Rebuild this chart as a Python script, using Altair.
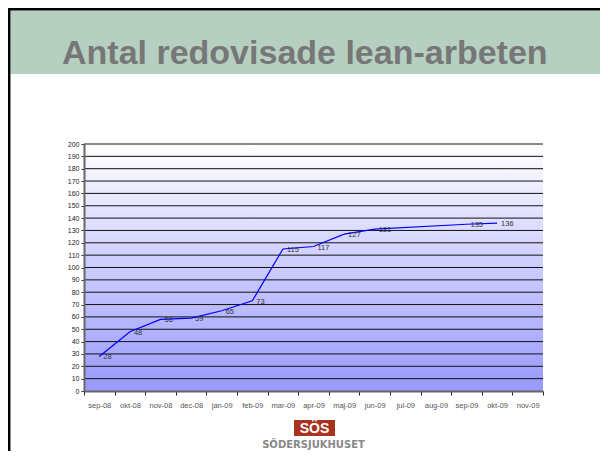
import altair as alt
import pandas as pd

# ---- data ----
months = ["sep-08", "okt-08", "nov-08", "dec-08", "jan-09", "feb-09", "mar-09",
          "apr-09", "maj-09", "jun-09", "jul-09", "aug-09", "sep-09", "okt-09", "nov-09"]
point_months = ["sep-08", "okt-08", "nov-08", "dec-08", "jan-09", "feb-09", "mar-09",
                "apr-09", "maj-09", "jun-09", "sep-09", "okt-09"]
values = [28, 48, 58, 59, 65, 73, 115, 117, 127, 131, 135, 136]
y_ticks = list(range(0, 201, 10))
title_text = "Antal redovisade lean-arbeten"
logo_text = "SÖS"
logo_sub = "SÖDERSJUKHUSET"

df = pd.DataFrame({"month": point_months, "value": values})
grid_df = pd.DataFrame({"value": y_ticks[1:]})

W, H = 459, 247
FONT = "Liberation Sans"

yscale = alt.Scale(domain=[0, 200], nice=False, zero=True)
y_axis = alt.Axis(title=None, values=y_ticks, grid=False, tickSize=3,
                  tickColor="#333", domainColor="#666", domainWidth=2,
                  labelFontSize=7, labelColor="#222", labelPadding=2,
                  labelFont=FONT, zindex=1)

x_enc = alt.X("month:N", sort=months,
              scale=alt.Scale(domain=months, paddingInner=0, paddingOuter=0),
              axis=alt.Axis(title=None, labelAngle=0, tickBand="extent", tickSize=4,
                            tickColor="#222", domainColor="#666", domainWidth=2,
                            labelFontSize=7.5, labelColor="#555", labelPadding=6,
                            labelFont=FONT, grid=False, zindex=1))

one = alt.Data(values=[{"a": 1}])

bg = alt.Chart(one).mark_rect(
    color=alt.LinearGradient(gradient="linear", x1=0, y1=0, x2=0, y2=1,
                             stops=[alt.GradientStop(offset=0, color="#ffffff"),
                                    alt.GradientStop(offset=1, color="#9999ff")])
).encode(x=alt.value(0), x2=alt.value(W), y=alt.value(0), y2=alt.value(H))

grid = alt.Chart(grid_df).mark_rule(color="#111", strokeWidth=1).encode(
    y=alt.Y("value:Q", scale=yscale, axis=y_axis))

base = alt.Chart(df)
line = base.mark_line(color="#0000ff", strokeWidth=1.2).encode(
    x=x_enc, y=alt.Y("value:Q", scale=yscale, axis=y_axis))
labels = base.mark_text(align="left", baseline="middle", dx=4, dy=1, fontSize=7.5,
                        color="#333", font=FONT).encode(
    x=alt.X("month:N", sort=months), y=alt.Y("value:Q", scale=yscale, axis=y_axis),
    text="value:Q")

band = alt.Chart(one).mark_rect(color="#b5cfc0").encode(
    x=alt.value(-73.5), x2=alt.value(530), y=alt.value(-133.5), y2=alt.value(-70))
border_left = alt.Chart(one).mark_rule(color="#000", strokeWidth=2.5).encode(
    x=alt.value(-74.8), y=alt.value(-136), y2=alt.value(320))
border_top = alt.Chart(one).mark_rule(color="#000", strokeWidth=2.5).encode(
    x=alt.value(-76), x2=alt.value(530), y=alt.value(-134.8))
title = alt.Chart(one).mark_text(text=title_text, align="left", baseline="alphabetic",
                                 fontSize=34, fontWeight="bold", color="#777777",
                                 font=FONT).encode(x=alt.value(-22), y=alt.value(-80))
logo_box = alt.Chart(one).mark_rect(color="#a8321e").encode(
    x=alt.value(210), x2=alt.value(251), y=alt.value(276), y2=alt.value(292))
logo_t = alt.Chart(one).mark_text(text=logo_text, align="center", baseline="middle",
                                  fontSize=14, fontWeight="bold", color="#ffffff",
                                  font=FONT).encode(x=alt.value(230.5), y=alt.value(284.5))
logo_s = alt.Chart(one).mark_text(text=logo_sub, align="center", baseline="middle",
                                  fontSize=10, fontWeight="bold", color="#888888",
                                  font="DejaVu Sans").encode(x=alt.value(229.5), y=alt.value(301))

chart = alt.layer(band, border_left, border_top, title, bg, grid, line, labels,
                  logo_box, logo_t, logo_s).properties(
    width=W, height=H,
    autosize=alt.AutoSizeParams(type="none"),
    padding={"left": 76, "top": 136, "right": 57, "bottom": 60},
    background="#ffffff",
).configure_view(stroke="transparent")

chart.save("out.html", embed_options={"renderer": "svg", "actions": False})
